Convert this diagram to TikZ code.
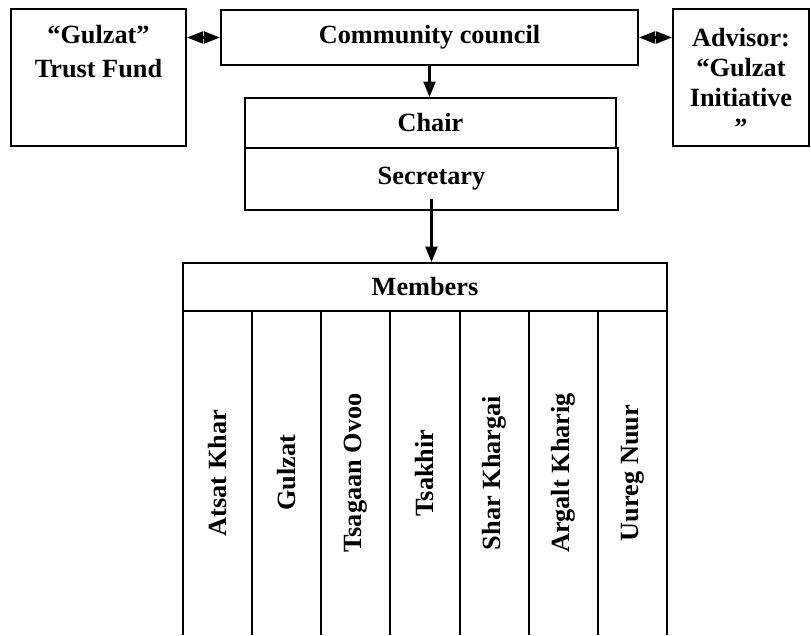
\documentclass[tikz,border=0pt]{standalone}
\usepackage{fontspec}
\setmainfont{Liberation Serif}
\usetikzlibrary{arrows.meta}
\tikzset{
  box/.style={draw, line width=1.5pt, inner sep=0pt},
  txt/.style={font=\fontsize{18.7}{24}\selectfont\bfseries, align=center},
  tip/.style={line width=1.5pt, -{Triangle[length=3.8mm,width=3mm]}},
  both/.style={line width=1.5pt, {Triangle[length=4mm,width=3mm]}-{Triangle[length=4mm,width=3mm]}}
}
\begin{document}
\begin{tikzpicture}[x=0.25mm, y=-0.25mm]
\useasboundingbox (0,0) rectangle (811,635);
% top row
\node [box, minimum width=43.75mm, minimum height=34.25mm,
  label={[txt, anchor=north, inner sep=12pt]north:{“Gulzat”\\Trust Fund}}] (fund) at (98.5,77.5) {};
\node [box, txt, minimum width=104.25mm, minimum height=13.75mm] (council) at (429.5,37.5) {Community council};
\node [box, minimum width=34mm, minimum height=34.25mm,
  label={[txt, font=\fontsize{18.7}{21.5}\selectfont\bfseries, anchor=north, inner sep=14pt]north:{Advisor:\\“Gulzat\\Initiative\\”}}] (advisor) at (741,77.5) {};
% chair and secretary
\node [box, txt, minimum width=92.75mm, minimum height=12.5mm] (chair) at (430.5,123) {Chair};
\node [box, txt, minimum width=93.25mm, minimum height=15.5mm] (secretary) at (431.5,179) {Secretary};
% members
\node [box, txt, minimum width=121mm, minimum height=12mm] (members) at (425,287) {Members};
\foreach \name [count=\i from 0] in {Atsat Khar, Gulzat, Tsagaan Ovoo, Tsakhir, Shar Khargai, Argalt Kharig, Uureg Nuur}
  \node [txt, rotate=90] (col\i) at ({217.5+69.14*\i},473) {\name};
\foreach \i in {0,...,7}
  \draw [line width=1.5pt] ({183+69.14*\i},311) -- ++(0,324);
% arrows
\draw [both] (fund.east |- council.west) -- (council.west);
\draw [both] (council.east) -- (advisor.west |- council.east);
\draw [tip] (council.south) -- (council.south |- chair.north);
\draw [tip] ([yshift=8.5pt]secretary.south) -- (secretary.south |- members.north);
\end{tikzpicture}
\end{document}
